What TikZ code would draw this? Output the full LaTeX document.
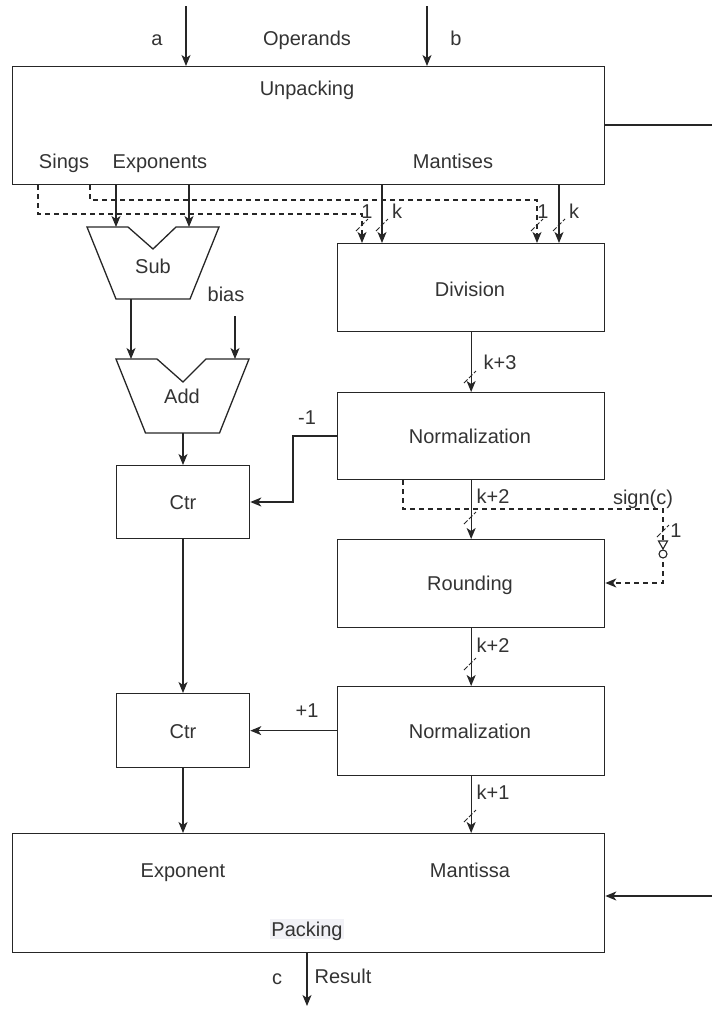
\documentclass[tikz,border=0pt]{standalone}
\usepackage{fontspec}
\setmainfont{Liberation Sans}
\usetikzlibrary{arrows.meta}
\newcommand\slashat[2]{\draw[tick] (#1-6,#2+6) -- (#1+6,#2-6);}
\begin{document}
\begin{tikzpicture}[x=1pt,y=-1pt,
  line width=1.3pt,
  every node/.style={text=black!80, font=\fontsize{20}{24}\selectfont},
  blk/.style={draw=black!85, line width=1.3pt, anchor=north west, inner sep=0pt},
  lbl/.style={inner sep=0pt, text height=14.3pt, text depth=0pt},
  arr/.style={draw=black!85, -{Stealth[length=11pt,width=9pt,inset=3pt]}},
  dsh/.style={draw=black!85, dash pattern=on 5pt off 4pt},
  darr/.style={dsh, -{Stealth[length=11pt,width=9pt,inset=3pt]}},
  tick/.style={draw=black!85, line width=0.9pt, dash pattern=on 5pt off 2pt},
  trap/.style={draw=black!85, line width=1.3pt, line join=miter}
]
\useasboundingbox (0,0) rectangle (712,1010);

% ---------- blocks ----------
\node[blk, minimum width=592pt, minimum height=118pt] (unpack) at (12,66) {};
\node[blk, minimum width=267pt, minimum height=88pt] (div) at (337,243) {};
\node[blk, minimum width=267pt, minimum height=87pt] (norm1) at (337,392) {};
\node[blk, minimum width=267pt, minimum height=88pt] (round) at (337,539) {};
\node[blk, minimum width=267pt, minimum height=89pt] (norm2) at (337,686) {};
\node[blk, minimum width=133pt, minimum height=73pt] (ctr1) at (116,465) {};
\node[blk, minimum width=133pt, minimum height=74pt] (ctr2) at (116,693) {};
\node[blk, minimum width=592pt, minimum height=119pt] (pack) at (12,833) {};

% ---------- trapezoids (Sub, Add) ----------
\draw[trap] (87,227) -- (128,227) -- (153,249) -- (176,227) -- (219,227) -- (190,299) -- (116,299) -- cycle;
\coordinate (subA) at (116,227);
\coordinate (subB) at (189,227);
\coordinate (subOut) at (131,299);
\draw[trap] (116,359) -- (157,359) -- (183,382) -- (206,359) -- (249,359) -- (219.5,433) -- (145.5,433) -- cycle;
\coordinate (addA) at (131,359);
\coordinate (addB) at (235,359);
\coordinate (addOut) at (183,433);

% ---------- texts ----------
\node[lbl] (la) at (157,38) {a};
\node[lbl] (lop) at (307,38) {Operands};
\node[lbl] (lb) at (456,38) {b};
\node[lbl] (lunp) at (307,88) {Unpacking};
\node[lbl] (lsg) at (64,161) {Sings};
\node[lbl] (lex) at (160,161) {Exponents};
\node[lbl] (lmt) at (453,161) {Mantises};
\node[lbl] (l1a) at (367,211) {1};
\node[lbl] (lka) at (397,211) {k};
\node[lbl] (l1b) at (543,211) {1};
\node[lbl] (lkb) at (574,211) {k};
\node[lbl] (lsub) at (153,266) {Sub};
\node[lbl] (lbias) at (226,294) {bias};
\node[lbl] (ladd) at (182,396) {Add};
\node[lbl] (ldiv) at (470,289) {Division};
\node[lbl] (lk3) at (500,362) {k+3};
\node[lbl] (lm1) at (307,417) {-1};
\node[lbl] (ln1) at (470,436) {Normalization};
\node[lbl] (lc1) at (183,502) {Ctr};
\node[lbl] (lk2a) at (493,496) {k+2};
\node[lbl] (lsign) at (643,497) {sign(c)};
\node[lbl] (l1c) at (676,530) {1};
\node[lbl] (lrnd) at (470,583) {Rounding};
\node[lbl] (lk2b) at (493,645) {k+2};
\node[lbl] (lp1) at (307,710) {+1};
\node[lbl] (ln2) at (470,731) {Normalization};
\node[lbl] (lc2) at (183,731) {Ctr};
\node[lbl] (lk1) at (493,792) {k+1};
\node[lbl] (lexp) at (183,870) {Exponent};
\node[lbl] (lman) at (470,870) {Mantissa};
\node[lbl, fill={rgb,255:red,241;green,241;blue,246}, inner xsep=1pt, inner ysep=3pt] (lpk) at (307,929) {Packing};
\node[lbl] (lc) at (277,977) {c};
\node[lbl] (lres) at (343,976) {Result};

% ---------- inputs / outputs ----------
\coordinate (ain) at (186,6);
\coordinate (bin) at (427,6);
\draw[arr] (ain) -- (ain |- unpack.north);
\draw[arr] (bin) -- (bin |- unpack.north);
\coordinate (rout) at (712,125);
\draw[draw=black!85] (unpack.east |- rout) -- (rout);
\coordinate (rin) at (712,896);
\draw[arr] (rin) -- (pack.east |- rin);
\coordinate (res) at (307,1006);
\draw[arr] (res |- pack.south) -- (res);

% ---------- exponents to Sub ----------
\draw[arr] (subA |- unpack.south) -- (subA);
\draw[arr] (subB |- unpack.south) -- (subB);
\draw[arr] (subOut) -- (addA);
\coordinate (biasin) at (235,316);
\draw[arr] (biasin) -- (addB);
\draw[arr] (addOut) -- (addOut |- ctr1.north);
\draw[arr] (addOut |- ctr1.south) -- (addOut |- ctr2.north);
\draw[arr] (addOut |- ctr2.south) -- (addOut |- pack.north);

% ---------- signs (dashed) ----------
\coordinate (d1a) at (38,214);
\coordinate (d1b) at (362,214);
\draw[darr] (d1a |- unpack.south) -- (d1a) -- (d1b) -- (d1b |- div.north);
\coordinate (d2a) at (90,200);
\coordinate (d2b) at (537,200);
\draw[darr] (d2a |- unpack.south) -- (d2a) -- (d2b) -- (d2b |- div.north);

% ---------- mantissas ----------
\coordinate (m1) at (382,0);
\coordinate (m2) at (559,0);
\draw[arr] (m1 |- unpack.south) -- (m1 |- div.north);
\draw[arr] (m2 |- unpack.south) -- (m2 |- div.north);
\slashat{362}{225}
\slashat{382}{225}
\slashat{537}{225}
\slashat{559}{225}

% ---------- mantissa path ----------
\draw[arr] (div.south) -- (norm1.north);
\slashat{470}{377}
\draw[arr] (norm1.south) -- (round.north);
\slashat{470}{518}
\draw[arr] (round.south) -- (norm2.north);
\slashat{470}{664}
\draw[arr] (norm2.south) -- (pack.north -| norm2.south);
\slashat{470}{816}

% ---------- -1 / +1 ----------
\coordinate (m1b) at (293,436);
\draw[arr] (norm1.west |- m1b) -- (m1b) -- (m1b |- lc1) -- (ctr1.east |- lc1);
\draw[arr] (norm2.west |- ctr2.east) -- (ctr2.east);

% ---------- sign(c) to Rounding ----------
\coordinate (sc1) at (403,509);
\coordinate (sc2) at (663,509);
\coordinate (sc3) at (663,583);
\draw[darr] (sc1 |- norm1.south) -- (sc1) -- (sc2) -- (sc3) -- (round.east |- sc3);
\slashat{663}{531}
\draw[draw=black!85, line width=1.1pt, fill=white] (658.5,541) -- (667.5,541) -- (663,549) -- cycle;
\draw[draw=black!85, line width=1.1pt, fill=white] (663,554) circle (4);
\end{tikzpicture}
\end{document}
